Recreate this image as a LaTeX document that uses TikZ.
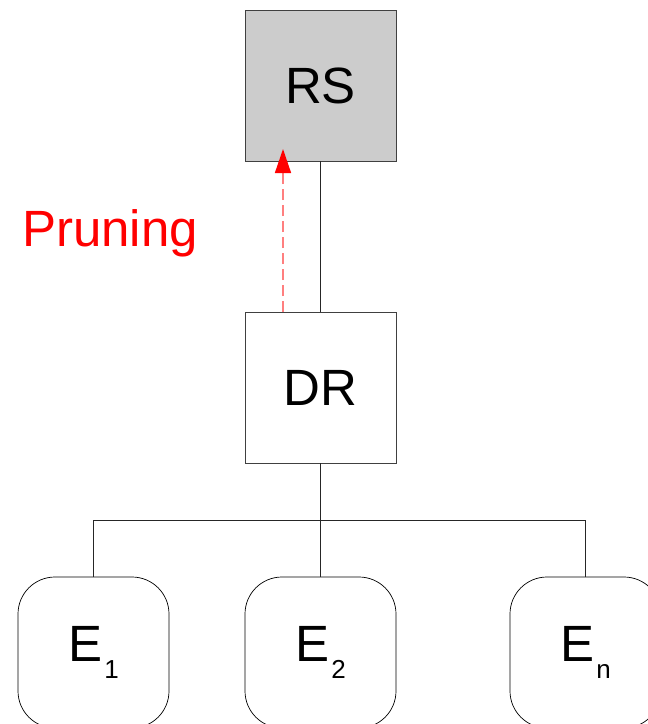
\documentclass[tikz,border=0pt]{standalone}
\usepackage{fontspec}
\setmainfont{Liberation Sans}
\usetikzlibrary{arrows.meta,calc}
\definecolor{boxgrey}{HTML}{CCCCCC}
\definecolor{edgegrey}{HTML}{404040}
\definecolor{prunered}{HTML}{FF0000}
\definecolor{dashred}{HTML}{FF7F7F}
\newcommand{\bigfont}{\fontsize{51}{51}\selectfont}
\newcommand{\subsc}[1]{\kern2pt\raisebox{-17pt}{\fontsize{26}{26}\selectfont #1}}
\begin{document}
\begin{tikzpicture}[x=1pt,y=-1pt,
  sqbox/.style={draw=edgegrey,line width=0.9pt,minimum width=151pt,minimum height=151pt,inner sep=0pt,font=\bigfont},
  ebox/.style={draw=black,line width=0.7pt,rounded corners=37pt,minimum width=151pt,minimum height=151pt,inner sep=0pt,font=\bigfont},
  conn/.style={draw=black!85,line width=0.9pt},
  prune/.style={draw=dashred,line width=1.5pt,dash pattern=on 11pt off 5pt,
    -{Triangle[width=16pt,length=24pt,color=prunered,fill=prunered]}}]
\useasboundingbox (0,0) rectangle (648,724);
\clip (0,0) rectangle (648,724);
\node[sqbox,fill=boxgrey] (RS) at (320.5,85.5) {RS};
\node[sqbox,fill=white] (DR) at (320.5,387.5) {DR};
\node[ebox] (E1) at (93.5,652.5) {E\subsc{1}};
\node[ebox] (E2) at (320.5,652.5) {E\subsc{2}};
\node[ebox] (En) at (585.5,652.5) {E\subsc{n}};
\node[text=prunered,font=\bigfont,anchor=base,inner sep=0pt] (prunelabel) at (110,246) {Pruning};
\coordinate (bus) at (320.5,520);
\coordinate (arrtip) at (283,149);
\coordinate (arrstart) at (283,312);
\draw[conn] (RS.south) -- (DR.north);
\draw[conn] (DR.south) -- (bus);
\draw[conn] (E1.north |- bus) -- (En.north |- bus);
\draw[conn] (E1.north |- bus) -- (E1.north);
\draw[conn] (bus) -- (E2.north);
\draw[conn] (En.north |- bus) -- (En.north);
\draw[prune] (arrstart) -- (arrtip);
\end{tikzpicture}
\end{document}
